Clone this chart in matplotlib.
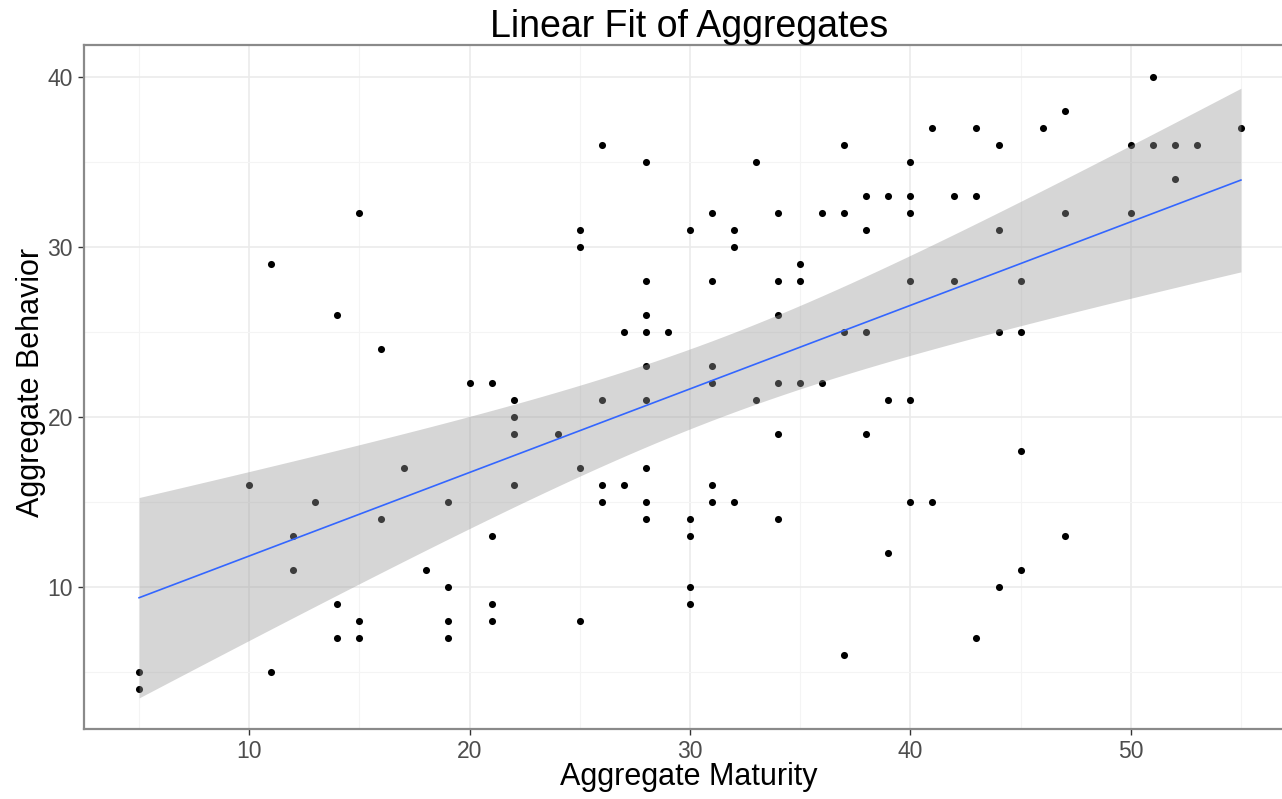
import numpy as np
import matplotlib
matplotlib.use('Agg')
import matplotlib.pyplot as plt

# aggregate maturity / behavior pairs
maturity = [5, 5, 10, 11, 11, 12, 12, 13, 14, 14, 14, 15, 15, 15, 16, 16, 17, 18,
            19, 19, 19, 19, 20, 21, 21, 21, 21, 22, 22, 22, 22, 24, 25, 25, 25, 25,
            26, 26, 26, 26, 27, 27, 28, 28, 28, 28, 28, 28, 28, 28, 28, 29,
            30, 30, 30, 30, 30, 31, 31, 31, 31, 31, 31, 32, 32, 32, 33, 33,
            34, 34, 34, 34, 34, 34, 35, 35, 35, 36, 36, 37, 37, 37, 37,
            38, 38, 38, 38, 39, 39, 39, 40, 40, 40, 40, 40, 40, 41, 41,
            42, 42, 43, 43, 43, 44, 44, 44, 44, 45, 45, 45, 45, 46, 47, 47, 47,
            50, 50, 51, 51, 52, 52, 53, 55]
behavior = [5, 4, 16, 29, 5, 13, 11, 15, 26, 9, 7, 32, 8, 7, 24, 14, 17, 11,
            15, 10, 8, 7, 22, 22, 13, 9, 8, 21, 20, 19, 16, 19, 31, 30, 17, 8,
            36, 21, 16, 15, 25, 16, 35, 28, 26, 25, 23, 21, 17, 15, 14, 25,
            31, 14, 13, 10, 9, 32, 28, 23, 22, 16, 15, 31, 30, 15, 35, 21,
            32, 28, 26, 22, 19, 14, 29, 28, 22, 32, 22, 36, 32, 25, 6,
            33, 31, 25, 19, 33, 21, 12, 35, 33, 32, 28, 21, 15, 37, 15,
            33, 28, 37, 33, 7, 36, 31, 25, 10, 28, 25, 18, 11, 37, 38, 32, 13,
            36, 32, 40, 36, 36, 34, 36, 37]

x = np.array(maturity, dtype=float)
y = np.array(behavior, dtype=float)

# lm fit with confidence band (like geom_smooth(method='lm'))
n = len(x)
slope, intercept = np.polyfit(x, y, 1)
resid = y - (slope * x + intercept)
s = np.sqrt(np.sum(resid ** 2) / (n - 2))
t_crit = 3.27   # band width as drawn in the original
xs = np.linspace(x.min(), x.max(), 80)
fit = slope * xs + intercept
se = s * np.sqrt(1 / n + (xs - x.mean()) ** 2 / np.sum((x - x.mean()) ** 2))

fig = plt.figure(figsize=(12.82, 7.99), dpi=100)
ax = fig.add_axes([84 / 1282, 1 - 729 / 799, 1212 / 1282, 684 / 799])
plt.rcParams['font.family'] = ['Liberation Sans', 'DejaVu Sans']

ax.scatter(x, y, s=26, color='black', zorder=3, linewidths=0)
ax.fill_between(xs, fit - t_crit * se, fit + t_crit * se, color='#999999',
                alpha=0.4, lw=0, zorder=4)
ax.plot(xs, fit, color='#3366FF', lw=1.2, zorder=5)

ax.set_xlim(2.5, 57.5)
ax.set_ylim(1.65, 41.88)
ax.set_xticks([10, 20, 30, 40, 50])
ax.set_yticks([10, 20, 30, 40])
ax.set_xticks([5, 15, 25, 35, 45, 55], minor=True)
ax.set_yticks([5, 15, 25, 35], minor=True)
ax.grid(which='major', color='#EBEBEB', lw=1.2, zorder=0)
ax.grid(which='minor', color='#F4F4F4', lw=0.8, zorder=0)
ax.set_axisbelow(True)
for sp in ax.spines.values():
    sp.set_color('#8A8A8A')
    sp.set_linewidth(1.6)
ax.tick_params(which='major', length=4, width=1, color='#333333',
               labelsize=16.5, labelcolor='#4D4D4D', pad=4)
ax.tick_params(which='minor', length=0)
for lab in ax.get_xticklabels() + ax.get_yticklabels():
    lab.set_fontfamily(['Liberation Sans', 'DejaVu Sans'])

fig.text(689 / 1282, 1 - 37 / 799, 'Linear Fit of Aggregates', ha='center',
         va='baseline', fontsize=27, color='black', family=['Liberation Sans'])
fig.text(689 / 1282, 1 - 785 / 799, 'Aggregate Maturity', ha='center',
         va='baseline', fontsize=22, color='black', family=['Liberation Sans'])
fig.text(31 / 1282, 1 - 382 / 799, 'Aggregate Behavior', ha='center',
         va='center', rotation=90, fontsize=22, color='black',
         family=['Liberation Sans'])

plt.savefig('out.png', dpi=100)
